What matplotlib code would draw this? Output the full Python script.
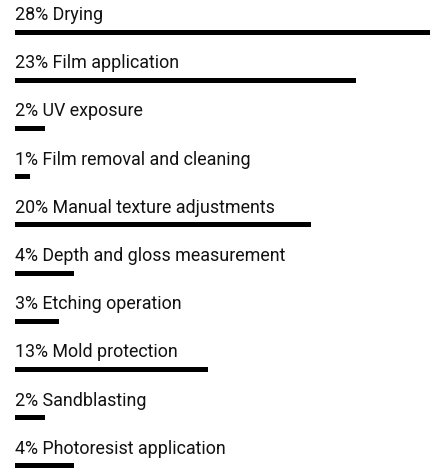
import matplotlib
matplotlib.use('Agg')
import matplotlib.pyplot as plt

labels = ["Drying", "Film application", "UV exposure", "Film removal and cleaning",
          "Manual texture adjustments", "Depth and gloss measurement", "Etching operation",
          "Mold protection", "Sandblasting", "Photoresist application"]
shares = [28, 23, 2, 1, 20, 4, 3, 13, 2, 4]

W, H = 433, 468
fig = plt.figure(figsize=(W / 100, H / 100), dpi=100)
ax = fig.add_axes([15 / W, 0, 415 / W, 1])

step = 48.2
ax.set_xlim(0, max(shares))
ax.set_ylim((H - 32) / step, -32 / step)
ax.barh(range(len(shares)), shares, height=5 / step, color='black', left=0)
for i, (lab, v) in enumerate(zip(labels, shares)):
    ax.text(0, i - 12 / step, f"{v}% {lab}", fontsize=12.9, family='Roboto',
            va='baseline', ha='left', color='#111111')
ax.axis('off')
fig.savefig('out.png', dpi=100)
